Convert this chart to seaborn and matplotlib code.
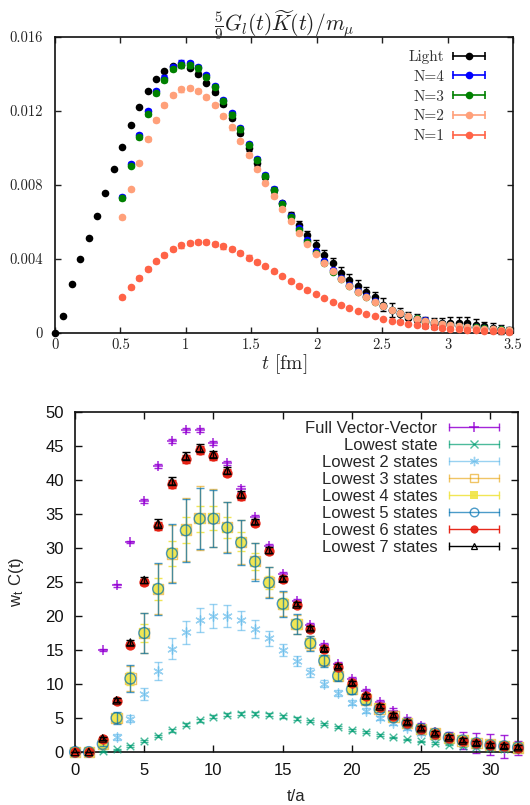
import numpy as np
import pandas as pd
import matplotlib
matplotlib.use("Agg")
import matplotlib.pyplot as plt
import seaborn as sns
from matplotlib.lines import Line2D
from matplotlib.legend_handler import HandlerBase

# ---------------- top panel data ----------------
a_fm = 0.0643
n_light = list(range(0, 55))
n_fit = list(range(8, 55))

light = [0, 0.00094, 0.00266, 0.00401, 0.00514, 0.00633, 0.00759, 0.00885, 0.01007, 0.01122,
         0.01223, 0.01309, 0.01372, 0.01417, 0.01444, 0.01446, 0.01433, 0.01399, 0.01354, 0.01302,
         0.01236, 0.0116, 0.01079, 0.00998, 0.00917, 0.00845, 0.00773, 0.00701, 0.00638, 0.00585,
         0.0053, 0.00477, 0.00423, 0.00378, 0.00327, 0.00288, 0.00255, 0.00219, 0.00192, 0.00153,
         0.00126, 0.00104, 0.00081, 0.00072, 0.00058, 0.0005, 0.00052, 0.00054, 0.00054, 0.00054,
         0.00045, 0.00036, 0.00027, 0.00018, 0.00013]
light_err = [0, 0.00003, 0.00003, 0.00003, 0.00003, 0.00003, 0.00003, 0.00003, 0.00004, 0.00004,
             0.00004, 0.00005, 0.00005, 0.00006, 0.00006, 0.00007, 0.00008, 0.00008, 0.00009, 0.0001,
             0.0001, 0.0001, 0.00011, 0.00012, 0.00012, 0.00013, 0.00014, 0.00015, 0.00018, 0.0002,
             0.00024, 0.00026, 0.00028, 0.0003, 0.0003, 0.0003, 0.00032, 0.00032, 0.00032, 0.00034,
             0.00038, 0.00033, 0.0003, 0.0003, 0.0003, 0.0003, 0.0003, 0.0003, 0.0003, 0.0003,
             0.00028, 0.00026, 0.00025, 0.00023, 0.0002]
n4 = [0.00737, 0.00914, 0.0107, 0.0120, 0.0131, 0.01381, 0.01439, 0.01462, 0.0146, 0.01439,
      0.01394, 0.01335, 0.01259, 0.01187, 0.01106, 0.01022, 0.0094, 0.00854, 0.00777, 0.00701,
      0.00633, 0.00567, 0.005, 0.00441, 0.00387, 0.00338, 0.00297, 0.00261, 0.00225, 0.00198,
      0.00171, 0.00147, 0.00126, 0.00108, 0.00094, 0.00081, 0.00068, 0.00059, 0.0005, 0.00045,
      0.0004, 0.00035, 0.0003, 0.00027, 0.00023, 0.0002, 0.00018]
n3 = [0.00728, 0.00905, 0.0106, 0.01185, 0.01295, 0.0137, 0.01425, 0.01447, 0.01447, 0.0143,
      0.01385, 0.0133, 0.01255, 0.0118, 0.011, 0.01015, 0.00935, 0.0085, 0.00772, 0.00695,
      0.00625, 0.00558, 0.0049, 0.00432, 0.0038, 0.0033, 0.0029, 0.00255, 0.0022, 0.00194,
      0.00168, 0.00145, 0.00124, 0.00106, 0.00092, 0.0008, 0.00067, 0.00058, 0.0005, 0.00044,
      0.00039, 0.00034, 0.0003, 0.00026, 0.00023, 0.0002, 0.00017]
n2 = [0.00626, 0.00777, 0.0092, 0.01047, 0.01151, 0.01232, 0.01286, 0.01317, 0.01324, 0.01309,
      0.01277, 0.01232, 0.01174, 0.01111, 0.0104, 0.00962, 0.00887, 0.00813, 0.00741, 0.00669,
      0.00603, 0.0054, 0.00482, 0.00428, 0.00378, 0.00333, 0.00291, 0.00255, 0.00223, 0.00192,
      0.00167, 0.00147, 0.00126, 0.00108, 0.0009, 0.00077, 0.00067, 0.00058, 0.0005, 0.00043,
      0.00037, 0.00032, 0.00028, 0.00024, 0.0002, 0.00017, 0.00015]
n1 = [0.00192, 0.00246, 0.00297, 0.00345, 0.00387, 0.00423, 0.00453, 0.00473, 0.00486, 0.00491,
      0.00491, 0.00482, 0.00468, 0.00453, 0.00432, 0.00408, 0.00383, 0.0036, 0.00333, 0.00306,
      0.00279, 0.00255, 0.0023, 0.0021, 0.00189, 0.00169, 0.00151, 0.00135, 0.00117, 0.00103,
      0.0009, 0.00077, 0.00067, 0.00058, 0.0005, 0.00043, 0.00038, 0.00032, 0.00027, 0.00023,
      0.0002, 0.00018, 0.00014, 0.00012, 0.0001, 0.00009, 0.00007]
fit_err = [0.00008, 0.00008, 0.00009, 0.0001, 0.0001, 0.00011, 0.00011, 0.00012, 0.00012, 0.00012,
           0.00012, 0.00012, 0.00012, 0.00012, 0.00011, 0.00011, 0.0001, 0.0001, 0.0001, 0.00009,
           0.00009, 0.00008, 0.00008, 0.00007, 0.00007, 0.00006, 0.00006, 0.00005, 0.00005, 0.00005,
           0.00004, 0.00004, 0.00004, 0.00003, 0.00003, 0.00003, 0.00003, 0.00003, 0.00002, 0.00002,
           0.00002, 0.00002, 0.00002, 0.00002, 0.00002, 0.00002, 0.00002]
top_labels = ["Light", "N=4", "N=3", "N=2", "N=1"]
top_colors = ["#000000", "#0000ff", "#008000", "#ffa07a", "#ff6347"]
top_xticks = [0, 0.5, 1, 1.5, 2, 2.5, 3, 3.5]
top_xticklabels = ["0", "0.5", "1", "1.5", "2", "2.5", "3", "3.5"]
top_yticks = [0, 0.004, 0.008, 0.012, 0.016]
top_yticklabels = ["0", "0.004", "0.008", "0.012", "0.016"]

# ---------------- bottom panel data ----------------
t_a = list(range(0, 33))
full_vv = [0, 0, 15.0, 24.5, 30.9, 36.9, 42.0, 45.7, 47.4, 47.3, 45.5, 42.5, 38.7, 34.6, 30.3, 26.2,
           22.2, 18.7, 15.7, 13.0, 10.8, 8.9, 7.4, 6.0, 4.8, 3.8, 2.9, 2.2, 1.7, 1.3, 1.1, 0.8, 0.6]
full_vv_err = [0, 0, 0.2, 0.2, 0.2, 0.3, 0.3, 0.3, 0.3, 0.3, 0.3, 0.3, 0.4, 0.3, 0.3, 0.3, 0.3,
               0.3, 0.3, 0.3, 0.3, 0.3, 0.3, 0.4, 0.4, 0.4, 0.5, 0.8, 1.2, 1.5, 1.6, 1.7, 1.0]
low1 = [0, 0, 0.1, 0.4, 0.9, 1.6, 2.4, 3.2, 4.0, 4.65, 5.2, 5.5, 5.65, 5.65, 5.5, 5.25, 4.9,
        4.55, 4.1, 3.7, 3.25, 2.9, 2.5, 2.15, 1.85, 1.55, 1.3, 1.1, 0.9, 0.75, 0.6, 0.5, 0.4]
low1_err = [0, 0, 0.05, 0.1, 0.1, 0.15, 0.15, 0.2, 0.2, 0.2, 0.2, 0.2, 0.2, 0.2, 0.2, 0.2, 0.2,
            0.2, 0.2, 0.15, 0.15, 0.15, 0.15, 0.1, 0.1, 0.1, 0.1, 0.1, 0.1, 0.1, 0.1, 0.1, 0.1]
low2 = [0, 0, 1.0, 2.2, 4.9, 8.5, 11.9, 15.2, 17.6, 19.4, 20.0, 19.95, 19.4, 18.1, 16.7, 15.0,
        13.4, 11.7, 10.05, 8.7, 7.25, 6.1, 5.05, 4.25, 3.5, 2.85, 2.2, 1.7, 1.4, 1.1, 0.85, 0.65, 0.5]
low2_err = [0, 0, 0.3, 0.4, 0.5, 0.9, 1.3, 1.5, 1.7, 1.8, 1.7, 1.6, 1.4, 1.3, 1.1, 0.9, 0.7,
            0.6, 0.5, 0.4, 0.4, 0.3, 0.3, 0.3, 0.3, 0.3, 0.3, 0.3, 0.3, 0.3, 0.3, 0.3, 0.3]
low3 = [0, 0, 1.2, 5.0, 10.8, 17.5, 24.0, 29.2, 32.7, 34.4, 34.4, 33.1, 30.9, 28.1, 25.0, 21.8,
        18.8, 16.0, 13.5, 11.2, 9.3, 7.7, 6.4, 5.2, 4.3, 3.4, 2.7, 2.1, 1.7, 1.3, 1.1, 0.85, 0.65]
low3_err = [0, 0, 0.3, 0.8, 1.9, 2.9, 3.7, 4.2, 4.6, 4.7, 4.3, 3.7, 3.2, 2.7, 2.2, 1.8, 1.4,
            1.0, 0.8, 0.6, 0.5, 0.4, 0.4, 0.3, 0.3, 0.3, 0.3, 0.3, 0.3, 0.3, 0.3, 0.3, 0.3]
low4 = [0, 0, 1.2, 5.0, 10.8, 17.5, 24.0, 29.2, 32.7, 34.3, 34.4, 33.0, 30.9, 28.0, 24.9, 21.8,
        18.8, 16.0, 13.5, 11.2, 9.3, 7.7, 6.4, 5.2, 4.3, 3.4, 2.7, 2.1, 1.7, 1.3, 1.1, 0.85, 0.65]
low4_err = [0, 0, 0.2, 0.5, 1.0, 1.3, 1.6, 1.8, 1.9, 1.9, 1.8, 1.6, 1.4, 1.2, 1.0, 0.8, 0.7,
            0.5, 0.4, 0.3, 0.3, 0.3, 0.3, 0.3, 0.3, 0.3, 0.3, 0.3, 0.3, 0.3, 0.3, 0.3, 0.3]
low5 = [0, 0, 1.2, 5.0, 10.8, 17.5, 24.0, 29.2, 32.6, 34.3, 34.3, 33.0, 30.8, 28.0, 24.9, 21.8,
        18.8, 16.0, 13.4, 11.2, 9.2, 7.6, 6.3, 5.1, 4.2, 3.4, 2.7, 2.1, 1.7, 1.3, 1.0, 0.85, 0.65]
low5_err = [0, 0, 0.3, 0.9, 2.0, 3.0, 3.8, 4.3, 4.6, 4.5, 4.2, 3.8, 3.3, 2.8, 2.3, 1.9, 1.5,
            1.1, 0.9, 0.7, 0.6, 0.5, 0.4, 0.4, 0.3, 0.3, 0.3, 0.3, 0.3, 0.3, 0.3, 0.3, 0.3]
low6 = [0, 0, 1.9, 7.45, 15.8, 25.0, 33.2, 39.4, 43.1, 44.4, 43.5, 41.1, 37.6, 33.7, 29.5, 25.4,
        21.6, 18.1, 15.1, 12.5, 10.15, 8.2, 6.6, 5.3, 4.3, 3.45, 2.7, 2.1, 1.65, 1.3, 1.0, 0.85, 0.65]
low6_err = [0, 0, 0.2, 0.3, 0.4, 0.5, 0.6, 0.6, 0.6, 0.6, 0.5, 0.5, 0.5, 0.4, 0.4, 0.4, 0.3,
            0.3, 0.3, 0.3, 0.3, 0.3, 0.3, 0.3, 0.3, 0.3, 0.3, 0.3, 0.3, 0.3, 0.3, 0.3, 0.3]
low7 = [0, 0, 2.0, 7.6, 16.1, 25.3, 33.6, 39.8, 43.5, 44.7, 43.8, 41.4, 37.9, 33.9, 29.7, 25.5,
        21.7, 18.2, 15.2, 12.6, 10.2, 8.3, 6.7, 5.4, 4.4, 3.5, 2.75, 2.15, 1.7, 1.35, 1.05, 0.9, 0.7]
low7_err = [0, 0, 0.2, 0.3, 0.4, 0.5, 0.6, 0.6, 0.6, 0.6, 0.5, 0.5, 0.5, 0.4, 0.4, 0.4, 0.3,
            0.3, 0.3, 0.3, 0.3, 0.3, 0.3, 0.3, 0.3, 0.3, 0.3, 0.3, 0.3, 0.3, 0.3, 0.3, 0.3]
bot_labels = ["Full Vector-Vector", "Lowest state", "Lowest 2 states", "Lowest 3 states",
              "Lowest 4 states", "Lowest 5 states", "Lowest 6 states", "Lowest 7 states"]
bot_colors = ["#9400d3", "#009e73", "#56b4e9", "#e69f00", "#f0e442", "#0072b2", "#e51e10", "#000000"]
bot_xticks = [0, 5, 10, 15, 20, 25, 30]
bot_yticks = [0, 5, 10, 15, 20, 25, 30, 35, 40, 45, 50]

# ---------------- style ----------------
sns.set_theme(style="ticks")
plt.rcParams["mathtext.fontset"] = "cm"
plt.rcParams["font.family"] = ["Liberation Sans", "DejaVu Sans"]
plt.rcParams["axes.unicode_minus"] = False


class GPHandler(HandlerBase):
    """gnuplot-like legend key: horizontal bar with end caps and a marker."""

    def create_artists(self, legend, orig, xdescent, ydescent, width, height, fontsize, trans):
        y = height / 2 - ydescent
        x0, x1 = -xdescent, width - xdescent
        c = orig.get_color()
        lw = orig.get_linewidth()
        al = orig.get_alpha()
        line = Line2D([x0, x1], [y, y], color=c, lw=lw, alpha=al)
        cap = Line2D([x0, x1], [y, y], ls="none", marker="|", ms=6, mew=lw, color=c, alpha=al)
        mk = Line2D([(x0 + x1) / 2], [y], ls="none", marker=orig.get_marker(),
                    ms=orig.get_markersize(), mfc=orig.get_markerfacecolor(),
                    mec=orig.get_markeredgecolor(), mew=orig.get_markeredgewidth(), alpha=al)
        for art in (line, cap, mk):
            art.set_transform(trans)
        return [line, cap, mk]


fig = plt.figure(figsize=(5.3, 8.05), dpi=100)
ax1 = fig.add_axes([55 / 530, 1 - 333 / 805, 458 / 530, 296 / 805])
ax2 = fig.add_axes([75 / 530, 1 - 752 / 805, 443 / 530, 340 / 805])

# ---------------- top panel ----------------
t_light = [a_fm * n for n in n_light]
t_fit = [a_fm * n for n in n_fit]
top_series = [(t_light, light, light_err), (t_fit, n4, fit_err), (t_fit, n3, fit_err),
              (t_fit, n2, fit_err), (t_fit, n1, fit_err)]
top_handles = []
for i, ((tx, ty, te), lab, col) in enumerate(zip(top_series, top_labels, top_colors)):
    df = pd.DataFrame({"t": tx, "v": ty, "e": te})
    ax1.errorbar(df["t"], df["v"], yerr=df["e"], fmt="none", ecolor=col, elinewidth=1.0,
                 capsize=2.5, capthick=1.0, zorder=2 + 2 * i, clip_on=False)
    sns.scatterplot(data=df, x="t", y="v", ax=ax1, color=col, s=30, marker="o",
                    edgecolor=col, linewidth=0, zorder=3 + 2 * i, clip_on=False, legend=False)
    top_handles.append(Line2D([], [], color=col, lw=1.2, marker="o", ms=5.5, mfc=col, mec=col,
                              mew=0, label=lab))

ax1.set_xlim(0, 3.5)
ax1.set_ylim(0, 0.016)
ax1.set_xticks(top_xticks, top_xticklabels)
ax1.set_yticks(top_yticks, top_yticklabels)
ax1.tick_params(direction="in", top=True, right=True, length=4, width=1.0, colors="#222222",
                labelsize=10.5, labelfontfamily="cmr10")
ax1.tick_params(axis="y", pad=9)
ax1.tick_params(axis="x", pad=4)
for sp in ax1.spines.values():
    sp.set_linewidth(1.2)
    sp.set_color("#111111")
ax1.set_xlabel("$t$ [fm]", fontsize=14, family="cmr10", labelpad=0, color="#222222")
ax1.set_ylabel("")
ax1.set_title(r"$\frac{5}{9}G_l(t)\widetilde{K}(t)/m_\mu$", fontsize=15.5, pad=4, color="#222222")
leg1 = ax1.legend(handles=top_handles, handler_map={Line2D: GPHandler()}, markerfirst=False,
                  frameon=False, loc="upper right", bbox_to_anchor=(485 / 530, 1 - 50 / 805),
                  bbox_transform=fig.transFigure, borderaxespad=0, borderpad=0,
                  prop={"family": "cmr10", "size": 11}, handlelength=2.1, handletextpad=0.55,
                  labelspacing=0.4)
for txt in leg1.get_texts():
    txt.set_color("#333333")

# ---------------- bottom panel ----------------
bot_series = [
    (full_vv, full_vv_err, dict(marker="+", s=45, linewidth=1.1), 0.85, False),
    (low1, low1_err, dict(marker="x", s=30, linewidth=1.0), 0.7, False),
    (low2, low2_err, dict(marker=(6, 2, 0), s=45, linewidth=1.0), 0.6, False),
    (low3, low3_err, dict(marker="s", s=55, linewidth=1.0), 0.6, "open"),
    (low4, low4_err, dict(marker="s", s=50, linewidth=0), 0.9, "fill"),
    (low5, low5_err, dict(marker="o", s=60, linewidth=1.0), 0.7, "open"),
    (low6, low6_err, dict(marker="o", s=55, linewidth=0), 0.95, "fill"),
    (low7, low7_err, dict(marker="^", s=28, linewidth=0.9), 1.0, "open"),
]
bot_handles = []
for i, ((vals, errs, mk, al, kind), lab, col) in enumerate(zip(bot_series, bot_labels, bot_colors)):
    df = pd.DataFrame({"t": t_a, "v": vals, "e": errs})
    ax2.errorbar(df["t"], df["v"], yerr=df["e"], fmt="none", ecolor=col, elinewidth=1.0,
                 capsize=3, capthick=1.0, alpha=al, zorder=2 + 2 * i, clip_on=False)
    if kind == "open":
        sns.scatterplot(data=df, x="t", y="v", ax=ax2, marker=mk["marker"], s=mk["s"],
                        facecolor="none", edgecolor=col, linewidth=mk["linewidth"], alpha=al,
                        zorder=3 + 2 * i, clip_on=False, legend=False)
        mfc, mec, mew = "none", col, mk["linewidth"]
    elif kind == "fill":
        sns.scatterplot(data=df, x="t", y="v", ax=ax2, marker=mk["marker"], s=mk["s"],
                        color=col, edgecolor=col, linewidth=0, alpha=al,
                        zorder=3 + 2 * i, clip_on=False, legend=False)
        mfc, mec, mew = col, col, 0
    else:
        sns.scatterplot(data=df, x="t", y="v", ax=ax2, marker=mk["marker"], s=mk["s"],
                        color=col, linewidth=mk["linewidth"], alpha=al,
                        zorder=3 + 2 * i, clip_on=False, legend=False)
        mfc, mec, mew = col, col, mk["linewidth"]
    bot_handles.append(Line2D([], [], color=col, lw=1.0, marker=mk["marker"],
                              ms=np.sqrt(mk["s"]) * (0.8 if kind else 1.0), mfc=mfc, mec=mec,
                              mew=mew, alpha=al, label=lab))

ax2.set_xlim(0, 32)
ax2.set_ylim(0, 50)
ax2.set_xticks(bot_xticks, [str(v) for v in bot_xticks])
ax2.set_yticks(bot_yticks, [str(v) for v in bot_yticks])
ax2.tick_params(direction="in", top=True, right=True, length=5, width=1.0, colors="#111111",
                labelsize=12)
ax2.tick_params(axis="y", pad=8)
ax2.tick_params(axis="x", pad=8)
for sp in ax2.spines.values():
    sp.set_linewidth(1.2)
    sp.set_color("#111111")
ax2.set_xlabel("t/a", fontsize=12, labelpad=8)
ax2.set_ylabel("w$_\\mathregular{t}$ C(t)", fontsize=12, labelpad=14)
leg2 = ax2.legend(handles=bot_handles, handler_map={Line2D: GPHandler()}, markerfirst=False,
                  frameon=False, loc="upper right", bbox_to_anchor=(499 / 530, 1 - 421 / 805),
                  bbox_transform=fig.transFigure, borderaxespad=0, borderpad=0,
                  prop={"size": 12}, handlelength=3.0, handletextpad=0.7, labelspacing=0.12)

fig.savefig("out.png", dpi=100)
